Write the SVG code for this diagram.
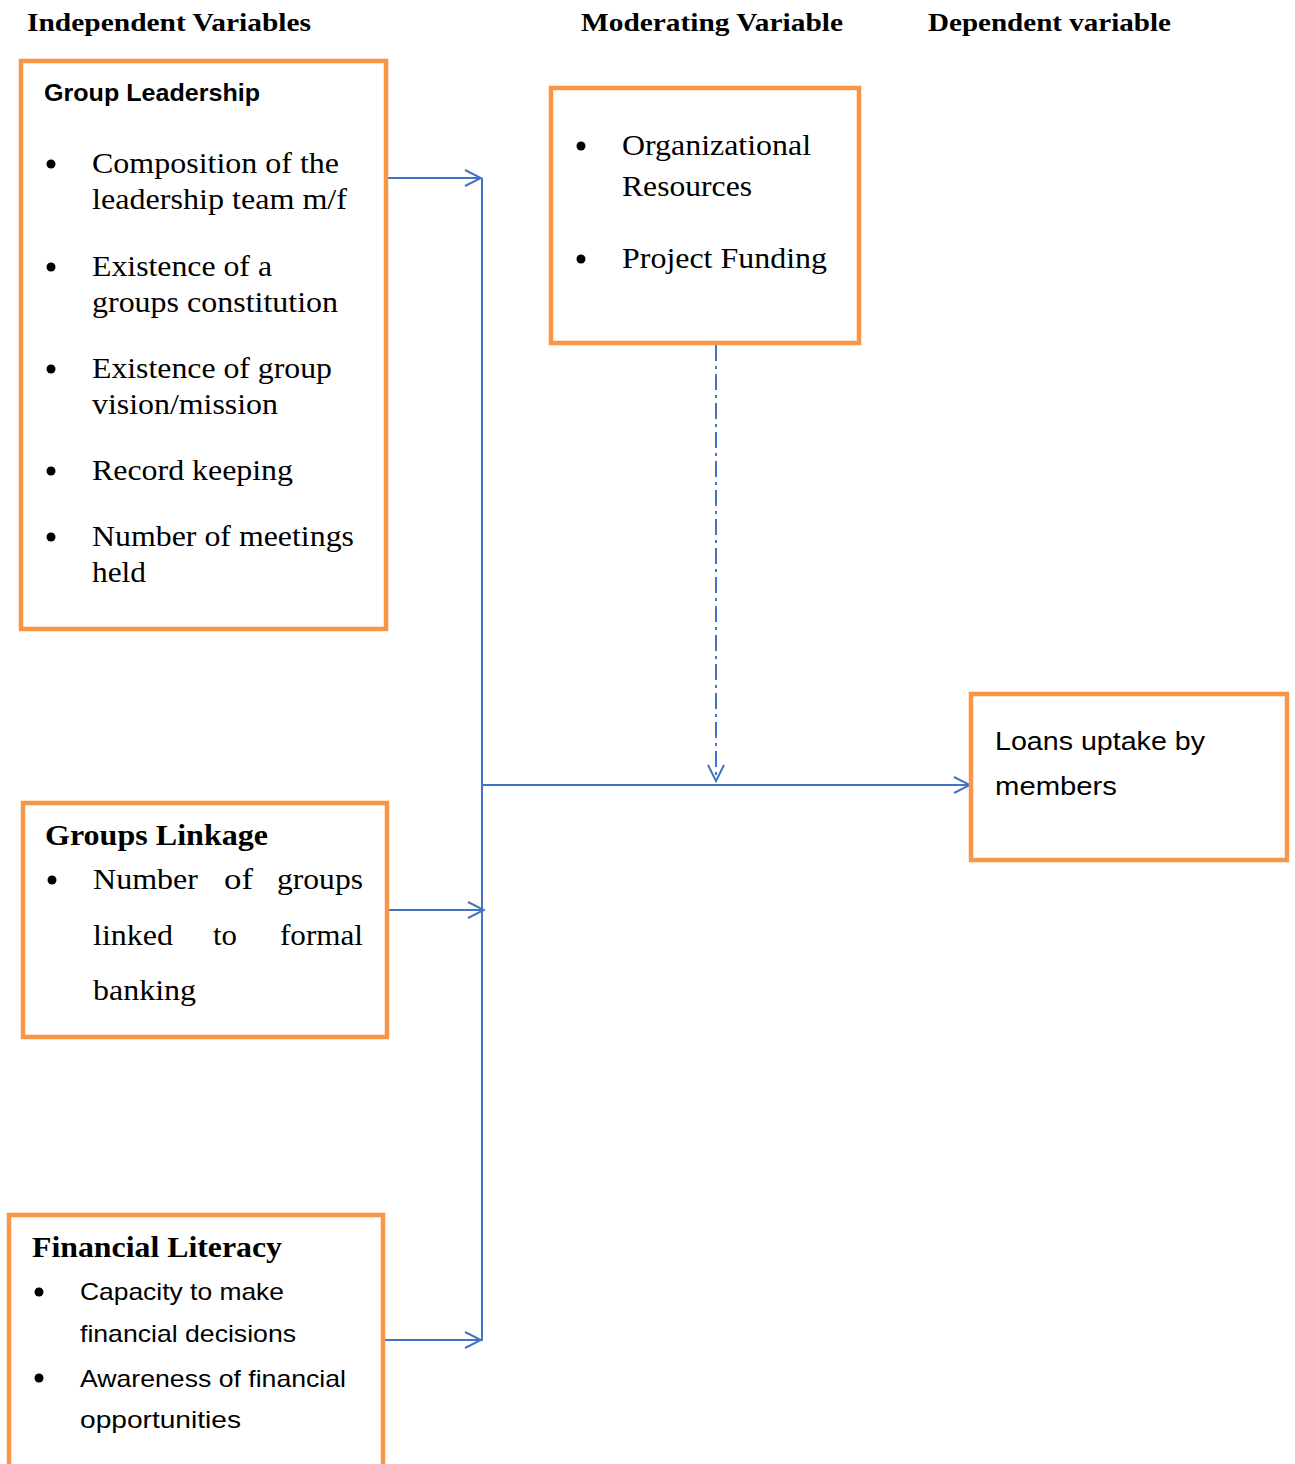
<svg xmlns="http://www.w3.org/2000/svg" width="1295" height="1464" viewBox="0 0 1295 1464">
<style>
.box{fill:#fff;stroke:#F79646;stroke-width:4.5}
.hdr{font-family:"Liberation Serif",serif;font-weight:bold;font-size:26px;fill:#000}
.ser{font-family:"Liberation Serif",serif;font-size:29px;fill:#000}
.serb{font-family:"Liberation Serif",serif;font-weight:bold;font-size:29px;fill:#000}
.san{font-family:"Liberation Sans",sans-serif;font-size:24px;fill:#000}
.sanl{font-family:"Liberation Sans",sans-serif;font-size:25px;fill:#000}
.sanb{font-family:"Liberation Sans",sans-serif;font-weight:bold;font-size:23.5px;fill:#000}
.bul{fill:#000}
.ln{stroke:#4472C4;stroke-width:2;fill:none}
</style>
<defs>
<marker id="ah" markerWidth="20" markerHeight="20" refX="18" refY="10" orient="auto" markerUnits="userSpaceOnUse">
<path d="M2,2 L18,10 L2,18" fill="none" stroke="#4472C4" stroke-width="2"/>
</marker>
</defs>
<g id="headers">
<text class="hdr" x="27" y="31" textLength="284" lengthAdjust="spacingAndGlyphs">Independent Variables</text>
<text class="hdr" x="581" y="31" textLength="262" lengthAdjust="spacingAndGlyphs">Moderating Variable</text>
<text class="hdr" x="928" y="31" textLength="243" lengthAdjust="spacingAndGlyphs">Dependent variable</text>
</g>
<g id="connectors">
<line class="ln" x1="482" y1="178" x2="482" y2="1341"/>
<line class="ln" x1="386" y1="178" x2="481" y2="178" marker-end="url(#ah)"/>
<line class="ln" x1="389" y1="910" x2="484" y2="910" marker-end="url(#ah)"/>
<line class="ln" x1="385" y1="1340" x2="481" y2="1340" marker-end="url(#ah)"/>
<line class="ln" x1="482" y1="785" x2="970" y2="785" marker-end="url(#ah)"/>
<line class="ln" x1="716" y1="345" x2="716" y2="781" stroke-dasharray="16,5,3,5" marker-end="url(#ah)"/>
</g>
<g id="group-leadership">
<rect class="box" x="21" y="61" width="365" height="568"/>
<text class="sanb" x="44" y="101" textLength="216" lengthAdjust="spacingAndGlyphs">Group Leadership</text>
<circle class="bul" cx="51" cy="164" r="4.5"/>
<text class="ser" x="92" y="173" textLength="247" lengthAdjust="spacingAndGlyphs">Composition of the</text>
<text class="ser" x="92" y="209" textLength="255" lengthAdjust="spacingAndGlyphs">leadership team m/f</text>
<circle class="bul" cx="51" cy="267" r="4.5"/>
<text class="ser" x="92" y="276" textLength="180" lengthAdjust="spacingAndGlyphs">Existence of a</text>
<text class="ser" x="92" y="312" textLength="246" lengthAdjust="spacingAndGlyphs">groups constitution</text>
<circle class="bul" cx="51" cy="369" r="4.5"/>
<text class="ser" x="92" y="378" textLength="240" lengthAdjust="spacingAndGlyphs">Existence of group</text>
<text class="ser" x="92" y="414" textLength="186" lengthAdjust="spacingAndGlyphs">vision/mission</text>
<circle class="bul" cx="51" cy="471" r="4.5"/>
<text class="ser" x="92" y="480" textLength="201" lengthAdjust="spacingAndGlyphs">Record keeping</text>
<circle class="bul" cx="51" cy="537" r="4.5"/>
<text class="ser" x="92" y="546" textLength="262" lengthAdjust="spacingAndGlyphs">Number of meetings</text>
<text class="ser" x="92" y="582" textLength="54" lengthAdjust="spacingAndGlyphs">held</text>
</g>
<g id="moderating">
<rect class="box" x="551" y="88" width="308" height="255"/>
<circle class="bul" cx="581" cy="146" r="4.5"/>
<text class="ser" x="622" y="155" textLength="189" lengthAdjust="spacingAndGlyphs">Organizational</text>
<text class="ser" x="622" y="196" textLength="130" lengthAdjust="spacingAndGlyphs">Resources</text>
<circle class="bul" cx="581" cy="259" r="4.5"/>
<text class="ser" x="622" y="268" textLength="205" lengthAdjust="spacingAndGlyphs">Project Funding</text>
</g>
<g id="loans-uptake">
<rect class="box" x="971" y="694" width="316" height="166"/>
<text class="sanl" x="995" y="750" textLength="210" lengthAdjust="spacingAndGlyphs">Loans uptake by</text>
<text class="sanl" x="995" y="795" textLength="122" lengthAdjust="spacingAndGlyphs">members</text>
</g>
<g id="groups-linkage">
<rect class="box" x="23" y="803" width="364" height="234"/>
<text class="serb" x="45" y="845" textLength="223" lengthAdjust="spacingAndGlyphs">Groups Linkage</text>
<circle class="bul" cx="52" cy="880" r="4.5"/>
<text class="ser" x="93" y="889" textLength="105" lengthAdjust="spacingAndGlyphs">Number</text>
<text class="ser" x="224" y="889" textLength="29" lengthAdjust="spacingAndGlyphs">of</text>
<text class="ser" x="277" y="889" textLength="86" lengthAdjust="spacingAndGlyphs">groups</text>
<text class="ser" x="93" y="945" textLength="80" lengthAdjust="spacingAndGlyphs">linked</text>
<text class="ser" x="213" y="945" textLength="24" lengthAdjust="spacingAndGlyphs">to</text>
<text class="ser" x="280" y="945" textLength="83" lengthAdjust="spacingAndGlyphs">formal</text>
<text class="ser" x="93" y="1000" textLength="103" lengthAdjust="spacingAndGlyphs">banking</text>
</g>
<g id="financial-literacy">
<rect class="box" x="9" y="1215" width="374" height="260"/>
<text class="serb" x="32" y="1257" textLength="250" lengthAdjust="spacingAndGlyphs">Financial Literacy</text>
<circle class="bul" cx="39" cy="1292" r="4.5"/>
<text class="san" x="80" y="1300" textLength="204" lengthAdjust="spacingAndGlyphs">Capacity to make</text>
<text class="san" x="80" y="1342" textLength="216" lengthAdjust="spacingAndGlyphs">financial decisions</text>
<circle class="bul" cx="39" cy="1378" r="4.5"/>
<text class="san" x="80" y="1387" textLength="266" lengthAdjust="spacingAndGlyphs">Awareness of financial</text>
<text class="san" x="80" y="1428" textLength="161" lengthAdjust="spacingAndGlyphs">opportunities</text>
</g>
</svg>
